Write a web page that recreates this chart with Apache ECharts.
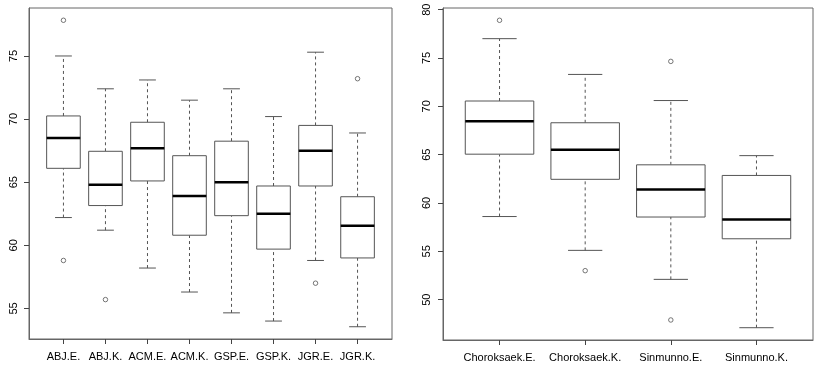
<!DOCTYPE html>
<html>
<head>
<meta charset="utf-8">
<script src="https://cdn.jsdelivr.net/npm/echarts@6/dist/echarts.min.js"></script>
<style>
html,body{margin:0;padding:0;background:#fff;}
#chart{width:827px;height:372px;}
</style>
</head>
<body>
<div id="chart"></div>
<script>
// ---- Left panel data ----
var leftCats = ['ABJ.E.','ABJ.K.','ACM.E.','ACM.K.','GSP.E.','GSP.K.','JGR.E.','JGR.K.'];
var leftLow  = [62.2, 61.2, 58.2, 56.3, 54.65, 54.0, 58.8, 53.55];
var leftQ1   = [66.1, 63.15, 65.1, 60.8, 62.35, 59.7, 64.7, 59.0];
var leftMed  = [68.5, 64.8, 67.7, 63.9, 65.0, 62.5, 67.5, 61.55];
var leftQ3   = [70.25, 67.45, 69.75, 67.1, 68.25, 64.7, 69.5, 63.85];
var leftHigh = [75.0, 72.4, 73.1, 71.5, 72.4, 70.2, 75.3, 68.9];
var leftOutCat = [1, 1, 2, 7, 8];
var leftOutVal = [77.83, 58.8, 55.7, 57.0, 73.2];
var leftTicks = [55, 60, 65, 70, 75];

// ---- Right panel data ----
var rightCats = ['Choroksaek.E.','Choroksaek.K.','Sinmunno.E.','Sinmunno.K.'];
var rightLow  = [58.6, 55.1, 52.1, 47.1];
var rightQ1   = [65.05, 62.45, 58.55, 56.3];
var rightMed  = [68.45, 65.5, 61.4, 58.3];
var rightQ3   = [70.55, 68.3, 63.95, 62.85];
var rightHigh = [77.0, 73.3, 70.6, 64.9];
var rightOutCat = [1, 2, 3, 3];
var rightOutVal = [78.9, 53.0, 74.65, 47.9];
var rightTicks = [50, 55, 60, 65, 70, 75, 80];

function boxData(low, q1, med, q3, high) {
  return low.map(function (v, i) { return [i + 1, low[i], q1[i], med[i], q3[i], high[i]]; });
}
function outData(cat, val) {
  return cat.map(function (c, i) { return [c, val[i]]; });
}
function yRange(low, high, outVal) {
  var all = low.concat(high, outVal);
  var mn = Math.min.apply(null, all), mx = Math.max.apply(null, all);
  var pad = (mx - mn) * 0.04;
  return [mn - pad, mx + pad];
}
function xRange(n) {
  var pad = n * 0.04;
  return [0.5 - pad, n + 0.5 + pad];
}

var BOX = '#555', FRAME = '#666';

function renderBox(params, api) {
  var x = api.value(0);
  var low = api.value(1), q1 = api.value(2), med = api.value(3), q3 = api.value(4), high = api.value(5);
  var w = api.size([0.8, 0])[0];
  var cw = api.size([0.4, 0])[0];
  var pLow = api.coord([x, low]), pQ1 = api.coord([x, q1]), pMed = api.coord([x, med]);
  var pQ3 = api.coord([x, q3]), pHigh = api.coord([x, high]);
  var cx = pMed[0];
  var dash = {stroke: BOX, lineWidth: 1, lineDash: [3, 3]};
  var solid = {stroke: BOX, lineWidth: 1};
  return {
    type: 'group',
    children: [
      {type: 'line', shape: {x1: cx, y1: pQ3[1], x2: cx, y2: pHigh[1]}, style: dash},
      {type: 'line', shape: {x1: cx, y1: pLow[1], x2: cx, y2: pQ1[1]}, style: dash},
      {type: 'line', shape: {x1: cx - cw / 2, y1: pHigh[1], x2: cx + cw / 2, y2: pHigh[1]}, style: solid},
      {type: 'line', shape: {x1: cx - cw / 2, y1: pLow[1], x2: cx + cw / 2, y2: pLow[1]}, style: solid},
      {type: 'rect', shape: {x: cx - w / 2, y: pQ3[1], width: w, height: pQ1[1] - pQ3[1]},
        style: {fill: '#fff', stroke: BOX, lineWidth: 1}},
      {type: 'line', shape: {x1: cx - w / 2, y1: pMed[1], x2: cx + w / 2, y2: pMed[1]},
        style: {stroke: '#000', lineWidth: 2.5}}
    ]
  };
}

function xAxisCfg(idx, cats) {
  var r = xRange(cats.length);
  var vals = cats.map(function (c, i) { return i + 1; });
  return {
    gridIndex: idx, type: 'value', min: r[0], max: r[1],
    splitLine: {show: false},
    axisLine: {show: true, lineStyle: {color: FRAME}},
    axisTick: {show: true, length: 5, customValues: vals, lineStyle: {color: '#444'}},
    axisLabel: {show: true, customValues: vals, margin: 12, fontFamily: 'Liberation Sans, Arial, sans-serif',
      fontSize: 11, color: '#000', formatter: function (v) { return cats[Math.round(v) - 1]; }}
  };
}
function yAxisCfg(idx, range, ticks, margin) {
  return {
    gridIndex: idx, type: 'value', min: range[0], max: range[1],
    splitLine: {show: false},
    axisLine: {show: true, lineStyle: {color: FRAME}},
    axisTick: {show: true, length: 5, customValues: ticks, lineStyle: {color: '#444'}},
    axisLabel: {show: true, customValues: ticks, rotate: 90, margin: margin,
      fontFamily: 'Liberation Sans, Arial, sans-serif', fontSize: 11, color: '#000'}
  };
}

var outStyle = {color: '#fff', borderColor: '#555', borderWidth: 1};

var chart = echarts.init(document.getElementById('chart'), null, {renderer: 'canvas'});
chart.setOption({
  animation: false,
  backgroundColor: '#fff',
  grid: [
    {left: 29, top: 8, width: 363, height: 331, show: true, borderColor: FRAME, borderWidth: 1, backgroundColor: 'transparent'},
    {left: 443, top: 8, width: 370, height: 332, show: true, borderColor: FRAME, borderWidth: 1, backgroundColor: 'transparent'}
  ],
  xAxis: [xAxisCfg(0, leftCats), xAxisCfg(1, rightCats)],
  yAxis: [
    yAxisCfg(0, yRange(leftLow, leftHigh, leftOutVal), leftTicks, 10),
    yAxisCfg(1, yRange(rightLow, rightHigh, rightOutVal), rightTicks, 11)
  ],
  series: [
    {type: 'custom', xAxisIndex: 0, yAxisIndex: 0, renderItem: renderBox,
      encode: {x: 0, y: [1, 2, 3, 4, 5]}, data: boxData(leftLow, leftQ1, leftMed, leftQ3, leftHigh)},
    {type: 'scatter', xAxisIndex: 0, yAxisIndex: 0, symbol: 'circle', symbolSize: 4.5,
      itemStyle: outStyle, data: outData(leftOutCat, leftOutVal)},
    {type: 'custom', xAxisIndex: 1, yAxisIndex: 1, renderItem: renderBox,
      encode: {x: 0, y: [1, 2, 3, 4, 5]}, data: boxData(rightLow, rightQ1, rightMed, rightQ3, rightHigh)},
    {type: 'scatter', xAxisIndex: 1, yAxisIndex: 1, symbol: 'circle', symbolSize: 4.5,
      itemStyle: outStyle, data: outData(rightOutCat, rightOutVal)}
  ]
});
</script>
</body>
</html>
